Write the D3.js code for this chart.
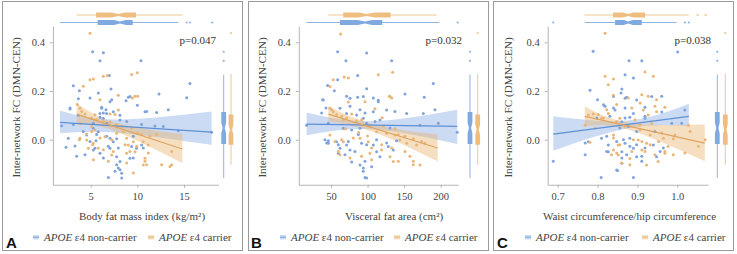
<!DOCTYPE html>
<html>
<head>
<meta charset="utf-8">
<script src="https://cdn.jsdelivr.net/npm/d3@7"></script>
<style>
  body { margin: 0; background: #fff; }
  svg { display: block; }
</style>
</head>
<body>
<svg width="737" height="254"></svg>
<script>
// ---- data ----
const yTicks = [0.0, 0.2, 0.4]
const groups = ['non-carrier', 'carrier']

// panel A: body fat mass index
const aBlue = [[5.21,0.361],[6.36,0.357],[6.0,0.324],[10.39,0.324],[7.0,0.264],[3.14,0.222],[15.64,0.231],[7.18,0.208],[3.79,0.201],[5.82,0.192],[12.32,0.188],[9.04,0.174],[15.29,0.172],[4.93,0.171],[3.68,0.168],[7.25,0.164],[8.79,0.16],[10.0,0.141],[6.18,0.133],[2.79,0.13],[6.64,0.123],[13.32,0.123],[11.0,0.116],[6.36,0.11],[3.68,0.1],[8.14,0.1],[6.0,0.092],[6.71,0.068],[1.89,0.057],[3.14,0.062],[5.29,0.068],[8.86,0.075],[10.46,0.062],[11.89,0.056],[14.39,0.037],[17.96,0.031],[9.57,0.014],[5.64,0.021],[4.21,0.034],[6.71,0.014],[7.79,0.004],[2.36,-0.031],[3.32,-0.026],[4.93,-0.007],[5.57,-0.004],[6.89,-0.027],[7.96,-0.034],[10.64,-0.034],[3.5,-0.068],[4.39,-0.062],[6.36,-0.075],[9.57,-0.075],[7.79,-0.103],[7.96,-0.116],[8.14,-0.123],[7.61,-0.13],[6.89,-0.155],[8.32,-0.157],
  [7.07,0.156],[9.21,0.177],[10.82,0.115],[12.07,0.112],[2.78,0.126],[6.17,0.129],[6.0,0.108],[6.71,0.108],[7.42,0.115],[8.14,0.081],[6.35,0.088],[5.28,0.047],[5.82,0.033],[7.07,0.006],[7.42,-0.008],[2.6,0.006],[4.57,0.019],[5.46,-0.035],[6.0,-0.056],[7.07,-0.035],[7.78,-0.07],[8.14,-0.09],[9.21,-0.076],[9.39,-0.028],[9.92,-0.035],[10.46,-0.022],[12.78,0.054],[8.32,-0.138],[5.28,-0.042]]
const aOrange = [[4.93,0.437],[10.0,0.275],[9.39,0.268],[6.36,0.26],[6.79,0.264],[4.93,0.246],[5.29,0.249],[4.21,0.219],[7.96,0.182],[9.46,0.171],[9.75,0.178],[10.04,0.178],[6.0,0.164],[3.57,0.144],[4.04,0.116],[4.39,0.105],[7.07,0.105],[7.61,0.103],[5.11,0.089],[5.64,0.082],[6.36,0.075],[7.07,0.073],[7.79,0.062],[3.86,0.068],[8.32,0.055],[9.39,0.048],[10.0,0.027],[10.46,0.021],[5.11,0.034],[4.57,0.023],[3.79,0.0],[6.0,0.007],[7.25,0.0],[11.36,0.014],[12.07,0.021],[5.21,-0.021],[5.82,-0.034],[6.36,-0.041],[7.43,-0.048],[8.68,-0.021],[9.21,-0.048],[9.93,-0.027],[11.18,-0.055],[13.68,-0.048],[5.29,-0.082],[6.89,-0.089],[8.86,-0.096],[10.82,-0.089],[11.0,-0.103],[12.61,-0.103],[13.68,-0.103],[9.57,-0.137],
  [3.85,0.129],[5.46,0.102],[7.96,0.122],[5.1,0.054],[5.46,0.04],[6.53,0.012],[7.78,0.026],[8.5,0.033],[8.85,0.006],[9.03,-0.022],[9.57,-0.008],[10.64,-0.008],[11.17,-0.022],[3.85,0.006],[4.57,-0.001],[5.28,-0.015],[7.25,-0.063],[8.85,-0.056],[9.75,-0.049],[10.82,-0.076],[10.64,-0.104],[13.5,-0.11],[4.75,-0.035]]
const aFitBlue = [[1.71,0.026,0.071,0.119],[7.8,0.029,0.056,0.083],[17.96,-0.021,0.031,0.116]]
const aFitOrange = [[3.5,0.062,0.105,0.151],[7.5,0.037,0.055,0.072],[14.82,-0.096,-0.038,0.023]]
const aTopBlue = [1.71,5.75,8.14,9.5,14.39], aTopBlueOut = [15.29,15.64,18.03]
const aTopOrange = [3.5,5.57,7.96,9.86,14.86], aTopOrangeOut = []

// panel B: visceral fat area
const bBlue = [[59.1,0.361],[98.8,0.356],[70.5,0.324],[133,0.324],[86.5,0.264],[59.1,0.246],[45.4,0.223],[54.6,0.201],[98.8,0.209],[190,0.231],[38.6,0.164],[86.5,0.174],[71.4,0.178],[107.9,0.171],[114.7,0.162],[151.2,0.188],[177.6,0.174],[76,0.137],[89.7,0.123],[96.5,0.11],[43.2,0.13],[37.2,0.11],[137.5,0.116],[192.2,0.123],[98.8,0.068],[16.7,0.059],[46.4,0.068],[110.2,0.075],[130.7,0.048],[171.7,0.059],[196.8,0.068],[222.7,0.031],[41.8,0],[44.1,-0.014],[46.4,-0.004],[60,-0.021],[73.7,-0.007],[87.4,0.021],[98.8,-0.021],[112.4,0],[126.1,-0.014],[139.8,-0.004],[69.1,-0.062],[82.8,-0.048],[96.5,-0.089],[78.3,-0.092],[94.2,-0.116],[94.2,-0.13],[96.5,-0.155],[98.8,-0.157],
  [39.5,0.163],[76,0.17],[94.2,0.177],[114.7,0.156],[126.1,0.122],[153.5,0.108],[176.3,0.108],[62.3,0.129],[71.4,0.108],[85.1,0.101],[94.2,0.088],[107.9,0.115],[117,0.081],[78.3,0.04],[66.9,0.047],[89.7,0.047],[46.4,-0.015],[57.7,-0.008],[62.3,-0.035],[60,-0.056],[71.4,-0.022],[76,-0.042],[91.9,-0.015],[107.9,-0.022],[112.4,-0.049],[117,-0.07],[128.4,-0.028],[135.2,-0.042],[89.7,-0.104],[105.6,-0.111]]
const bOrange = [[63.2,0.434],[134.3,0.277],[114.7,0.267],[68.2,0.257],[73.7,0.253],[53.2,0.246],[48.6,0.218],[129.8,0.178],[133,0.171],[73.7,0.155],[110.2,0.127],[50.9,0.123],[57.7,0.103],[64.6,0.096],[71.4,0.089],[78.3,0.105],[85.1,0.078],[91.9,0.082],[121.6,0.055],[137.5,0.045],[142.1,0.021],[151.2,0.014],[162.6,0.004],[174,-0.007],[55.5,-0.007],[64.6,0],[80.5,0.007],[105.6,-0.034],[119.3,-0.021],[133,-0.034],[60,-0.048],[62.3,-0.062],[76,-0.075],[91.9,-0.068],[105.6,-0.082],[151.2,-0.048],[158,-0.068],[142.1,-0.089],[162.6,-0.089],[162.6,-0.103],[70,0.045],[88,0.03],[100,0.015],[120,0.09],
  [48.6,0.129],[53.2,0.115],[66.9,0.081],[94.2,0.06],[103.3,0.054],[112.4,0.033],[126.1,0.026],[137.5,0.019],[144.3,-0.001],[153.5,-0.015],[167.1,-0.022],[178.5,-0.015],[48.6,0.019],[66.9,-0.008],[89.7,0.006],[101,-0.008],[103.3,-0.056],[119.3,-0.042],[130.7,-0.07],[135.2,-0.09],[171.7,-0.104],[130.7,0.177],[96.5,0.156]]
const bFitBlue = [[16.7,0.018,0.064,0.112],[105,0.043,0.06,0.076],[222.7,-0.018,0.055,0.123]]
const bFitOrange = [[46.4,0.075,0.105,0.137],[110,0.03,0.046,0.062],[195.9,-0.089,-0.034,0.021]]
const bTopBlue = [16.8,62.3,96.5,120.1,198.1], bTopBlueOut = [223.3]
const bTopOrange = [46.3,66.8,98.8,131.6,194.5], bTopOrangeOut = []

// panel C: waist / hip circumference
const cBlue = [[0.789,0.363],[1.001,0.36],[0.879,0.324],[0.911,0.324],[0.869,0.267],[0.89,0.253],[0.781,0.203],[0.861,0.208],[0.859,0.192],[0.873,0.174],[0.961,0.178],[0.8,0.164],[0.819,0.137],[0.84,0.13],[0.869,0.13],[0.919,0.133],[0.961,0.114],[0.798,0.089],[0.831,0.096],[0.869,0.089],[0.881,0.092],[0.919,0.096],[0.986,0.068],[1.011,0.068],[0.856,0.048],[0.898,0.034],[0.944,0.034],[0.769,-0.014],[0.823,0.014],[0.848,-0.007],[0.865,0],[0.881,-0.027],[0.898,-0.021],[0.919,-0.034],[0.965,-0.034],[0.769,-0.062],[0.823,-0.048],[0.861,-0.075],[0.873,-0.062],[0.911,-0.068],[0.911,-0.089],[0.957,-0.048],[0.689,-0.089],[0.85,-0.127],[0.809,-0.155],[0.89,-0.155],
  [0.84,0.177],[0.869,0.17],[0.898,0.163],[0.936,0.177],[0.815,0.143],[0.844,0.122],[0.89,0.108],[0.919,0.088],[1.019,0.122],[0.861,0.074],[0.877,0.054],[0.777,-0.008],[0.81,0.006],[0.827,-0.022],[0.861,-0.049],[0.869,-0.015],[0.881,0.006],[0.89,-0.035],[0.898,-0.07],[0.861,-0.097],[0.94,-0.022],[0.948,-0.07],[0.827,-0.049],[0.848,-0.124]]
const cOrange = [[0.819,0.437],[0.919,0.278],[0.819,0.26],[0.84,0.249],[0.827,0.226],[0.94,0.26],[0.84,0.182],[0.877,0.171],[0.911,0.185],[0.927,0.178],[0.948,0.164],[0.907,0.151],[0.823,0.123],[0.848,0.144],[0.886,0.13],[0.944,0.137],[0.969,0.133],[0.789,0.105],[0.802,0.103],[0.815,0.089],[0.848,0.075],[0.894,0.082],[0.936,0.068],[1.028,0.059],[0.769,0.059],[0.794,0.048],[0.869,0.055],[0.907,0.041],[0.961,0.027],[0.99,0.004],[1.032,0.034],[1.07,0],[0.781,-0.01],[0.84,0.007],[0.856,-0.021],[0.89,0],[0.911,-0.007],[0.932,-0.021],[0.953,-0.007],[1.053,-0.027],[0.835,-0.062],[0.848,-0.055],[0.861,-0.096],[0.886,-0.048],[0.919,-0.048],[0.944,-0.062],[0.969,-0.048],[0.99,-0.062],[1.019,-0.055],[0.881,-0.103],
  [0.777,0.101],[0.81,0.088],[0.827,0.108],[0.856,0.088],[0.906,0.06],[0.915,0.122],[0.927,0.101],[0.948,0.115],[0.84,0.019],[0.852,-0.022],[0.902,-0.001],[0.923,-0.015],[0.932,0.019],[0.965,0.006],[0.994,0.019],[0.84,-0.042],[0.852,-0.063],[0.881,-0.077],[0.911,-0.042],[0.977,-0.028],[0.969,-0.056],[0.923,-0.104],[0.952,-0.09]]
const cFitBlue = [[0.689,-0.045,0.023,0.096],[0.877,0.047,0.063,0.079],[1.029,0.055,0.096,0.148]]
const cFitOrange = [[0.768,0.055,0.096,0.137],[0.877,0.041,0.056,0.071],[1.069,-0.089,-0.014,0.062]]
const cTopBlue = [0.768,0.844,0.877,0.911,0.998], cTopBlueOut = [0.689,1.019,1.029]
const cTopOrange = [0.767,0.839,0.877,0.919,1.029], cTopOrangeOut = [1.051,1.071]

// right-hand marginal boxes (same FC outcome in each panel)
const rightBlue = [-0.157,-0.018,0.048,0.114,0.267], rightBlueOut = [0.324,0.361]
const rightOrange = [-0.103,-0.021,0.041,0.103,0.27], rightOrangeOut = [0.438]

const xLabels = ['Body fat mass index (kg/m²)', 'Visceral fat area (cm²)', 'Waist circumference/hip circumference']
const pValues = ['p=0.047', 'p=0.032', 'p=0.038']
const panelLetters = ['A', 'B', 'C']

// ---- style ----
const blueDot = '#7fa3da', orangeDot = '#e9b677'
const blueLine = '#5f90d6', orangeLine = '#dea562'
const blueBand = 'rgba(125,166,226,0.4)', orangeBand = 'rgba(234,178,108,0.42)'
const blueBox = '#80a9e0', orangeBox = '#eebd80'
const serif = '"Liberation Serif", "DejaVu Serif", serif'

const svg = d3.select('svg')
const yScale = d3.scaleLinear().domain([-0.185, 0.466]).range([184.75, 26.2])

const panels = [
  { frame: [2, 242], xDomain: [0.95, 18.7], xRange: [52.9, 218.5], xTicks: [5, 10, 15], fmt: d3.format('d'),
    blue: aBlue, orange: aOrange, fitBlue: aFitBlue, fitOrange: aFitOrange,
    topBlue: aTopBlue, topBlueOut: aTopBlueOut, topOrange: aTopOrange, topOrangeOut: aTopOrangeOut,
    rightX: [223.7, 231], ylabX: 16, xlabX: 142, pX: 216, legX: 33, legX2: 148, letterX: 6 },
  { frame: [248, 488], xDomain: [6, 224], xRange: [298.8, 458.2], xTicks: [50, 100, 150, 200], fmt: d3.format('d'),
    blue: bBlue, orange: bOrange, fitBlue: bFitBlue, fitOrange: bFitOrange,
    topBlue: bTopBlue, topBlueOut: bTopBlueOut, topOrange: bTopOrange, topOrangeOut: bTopOrangeOut,
    rightX: [470, 477.7], ylabX: 262, xlabX: 394, pX: 462, legX: 280, legX2: 394, letterX: 251 },
  { frame: [493, 733], xDomain: [0.675, 1.077], xRange: [547.7, 708], xTicks: [0.7, 0.8, 0.9, 1.0], fmt: d3.format('.1f'),
    blue: cBlue, orange: cOrange, fitBlue: cFitBlue, fitOrange: cFitOrange,
    topBlue: cTopBlue, topBlueOut: cTopBlueOut, topOrange: cTopOrange, topOrangeOut: cTopOrangeOut,
    rightX: [717.3, 725.3], ylabX: 508.5, xlabX: 629.5, pX: 711, legX: 525, legX2: 642, letterX: 497 }
]

// notched box, orient 'h' for the top ones, 'v' for the right ones
function notchBox(g, scale, s, pos, orient, fill, lineColor, out) {
  const half = 2.4, narrow = 1.1
  const n = 0.17 * (s[3] - s[1])
  const pt = (v, off) => orient === 'h' ? [scale(v), pos + off] : [pos + off, scale(v)]
  const line = orient === 'h'
    ? { x1: scale(s[0]), x2: scale(s[4]), y1: pos, y2: pos }
    : { x1: pos, x2: pos, y1: scale(s[0]), y2: scale(s[4]) }
  g.append('line').attr('x1', line.x1).attr('x2', line.x2).attr('y1', line.y1).attr('y2', line.y2)
    .attr('stroke', lineColor).attr('stroke-width', 1)
  const poly = [pt(s[1], -half), pt(s[2] - n, -half), pt(s[2], -narrow), pt(s[2] + n, -half), pt(s[3], -half),
    pt(s[3], half), pt(s[2] + n, half), pt(s[2], narrow), pt(s[2] - n, half), pt(s[1], half)]
  g.append('polygon').attr('points', poly.map(p => p.join(',')).join(' ')).attr('fill', fill)
  g.selectAll(null).data(out).enter().append('circle')
    .attr('cx', d => orient === 'h' ? scale(d) : pos)
    .attr('cy', d => orient === 'h' ? pos : scale(d))
    .attr('r', 1.1).attr('fill', lineColor)
}

function drawPanel(p, i) {
  const g = svg.append('g')
  const x = d3.scaleLinear().domain(p.xDomain).range(p.xRange)
  const y = yScale

  g.append('rect')
    .attr('x', p.frame[0] + 0.5).attr('y', 1.5)
    .attr('width', p.frame[1] - p.frame[0]).attr('height', 249)
    .attr('fill', 'none').attr('stroke', '#9a9a9a')

  // bands
  const band = d3.area().x(d => x(d[0])).y0(d => y(d[1])).y1(d => y(d[3])).curve(d3.curveNatural)
  g.append('path').datum(p.fitBlue).attr('d', band).attr('fill', blueBand)
  g.append('path').datum(p.fitOrange).attr('d', band).attr('fill', orangeBand)

  // points
  g.append('g').selectAll('circle').data(p.blue).enter().append('circle')
    .attr('cx', d => x(d[0])).attr('cy', d => y(d[1])).attr('r', 1.5).attr('fill', blueDot)
  g.append('g').selectAll('circle').data(p.orange).enter().append('circle')
    .attr('cx', d => x(d[0])).attr('cy', d => y(d[1])).attr('r', 1.5).attr('fill', orangeDot)

  // fit lines
  const fit = d3.line().x(d => x(d[0])).y(d => y(d[2]))
  const ends = arr => [arr[0], arr[arr.length - 1]]
  g.append('path').datum(ends(p.fitBlue)).attr('d', fit).attr('stroke', blueLine).attr('stroke-width', 1.2).attr('fill', 'none')
  g.append('path').datum(ends(p.fitOrange)).attr('d', fit).attr('stroke', orangeLine).attr('stroke-width', 1.2).attr('fill', 'none')

  // axes
  const xAxis = d3.axisBottom(x).tickValues(p.xTicks).tickFormat(p.fmt).tickSize(3).tickSizeOuter(0).tickPadding(5)
  const yAxis = d3.axisLeft(y).tickValues(yTicks).tickFormat(d3.format('.1f')).tickSize(3).tickSizeOuter(0).tickPadding(5)
  const xg = g.append('g').attr('transform', `translate(0,${y.range()[0]})`).call(xAxis)
  const yg = g.append('g').attr('transform', `translate(${p.xRange[0]},0)`).call(yAxis)
  ;[xg, yg].forEach(a => {
    a.select('.domain').attr('stroke', '#b5b5b5')
    a.selectAll('.tick line').attr('stroke', '#b5b5b5')
    a.selectAll('.tick text').attr('fill', '#444').style('font-family', serif).style('font-size', '10.5px')
  })

  // marginal boxes
  notchBox(g, x, p.topOrange, 15, 'h', orangeBox, '#efc791', p.topOrangeOut)
  notchBox(g, x, p.topBlue, 22.5, 'h', blueBox, '#8fb3e3', p.topBlueOut)
  notchBox(g, y, rightBlue, p.rightX[0], 'v', blueBox, '#8fb3e3', rightBlueOut)
  notchBox(g, y, rightOrange, p.rightX[1], 'v', orangeBox, '#efc791', rightOrangeOut)

  // texts
  g.append('text').attr('x', p.pX).attr('y', 44).attr('text-anchor', 'end')
    .style('font-family', serif).style('font-size', '11px').attr('fill', '#333').text(pValues[i])

  g.append('text').attr('transform', `translate(${p.ylabX},107.5) rotate(-90)`).attr('dy', '0.35em')
    .attr('text-anchor', 'middle').style('font-family', serif).style('font-size', '11.2px').attr('fill', '#444')
    .text('Inter-network FC (DMN-CEN)')

  g.append('text').attr('x', p.xlabX).attr('y', 219.5).attr('text-anchor', 'middle')
    .style('font-family', serif).style('font-size', '11px').attr('fill', '#444').text(xLabels[i])

  // legend
  const leg = g.append('g')
  ;[[p.legX, blueBand, blueLine, groups[0]], [p.legX2, orangeBand, orangeLine, groups[1]]].forEach(l => {
    leg.append('rect').attr('x', l[0]).attr('y', 235).attr('width', 6).attr('height', 4.5).attr('fill', l[1])
    leg.append('line').attr('x1', l[0]).attr('x2', l[0] + 6).attr('y1', 237.2).attr('y2', 237.2).attr('stroke', l[2]).attr('stroke-width', 0.8)
    const t = leg.append('text').attr('x', l[0] + 11).attr('y', 240.5)
      .style('font-family', serif).style('font-size', '11px').attr('fill', '#444')
    t.append('tspan').style('font-style', 'italic').text('APOE')
    t.append('tspan').text(' ε4 ' + l[3])
  })

  g.append('text').attr('x', p.letterX).attr('y', 248)
    .style('font-family', '"Liberation Sans", Arial, sans-serif').style('font-weight', 'bold').style('font-size', '15px')
    .attr('fill', '#111').text(panelLetters[i])
}

panels.forEach(drawPanel)
</script>
</body>
</html>
